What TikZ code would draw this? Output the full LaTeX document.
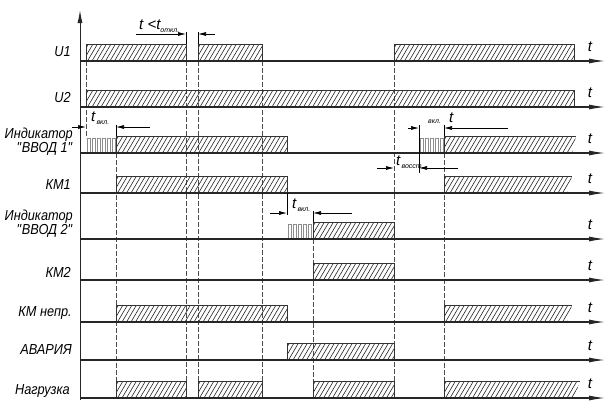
\documentclass[tikz,border=0pt]{standalone}
\usepackage{fontspec}
\setmainfont{Liberation Sans}
\newfontfamily\lblfont{Liberation Sans}[FakeStretch=0.88]
\usetikzlibrary{arrows.meta}
\newcommand{\hatchbar}[5]{%
  \begin{scope}
    \clip (#1,#4) -- (#1,#4-17) -- (#2,#4-17) -- (#3,#4) -- cycle;
    \pgfmathtruncatemacro\nh{(#2-#1)/4.5+4}
    \foreach \k in {0,...,\nh} \draw[hatchln] ({#1-12+4.5*\k},#4) -- ++(10,-17);
  \end{scope}
  \draw[edge] (#1,#4) -- (#1,#4-17) -- (#2,#4-17);
  \ifnum#5=1 \draw[edge] (#2,#4-17) -- (#3,#4);\fi
}
\newcommand{\pulses}[3]{%
  \foreach \k in {1,...,#2} \draw[pulse] ({#1+1+5*(\k-1)},#3) rectangle ++(3,-15);
}
\newcommand{\sub}[1]{\raisebox{-2.5pt}{\fontsize{7}{7}\selectfont #1}}
\newcommand{\sq}{\XeTeXglyph\XeTeXcharglyph34\relax}
\begin{document}
\begin{tikzpicture}[x=1pt,y=-1pt,
  base/.style={line width=1.1pt, draw=black!85, -{Latex[length=16pt,width=5pt]}},
  hatchln/.style={line width=0.6pt, draw=black!85},
  edge/.style={line width=0.7pt, draw=black!80},
  guide/.style={line width=0.7pt, draw=black!70, dash pattern=on 5pt off 2pt},
  dim/.style={line width=0.7pt, draw=black, -{Latex[length=8pt,width=4pt]}},
  tickln/.style={line width=0.7pt, draw=black},
  lbl/.style={font=\lblfont\fontsize{14.5}{13}\selectfont\itshape, align=right, anchor=east, inner sep=0pt},
  tl/.style={font=\fontsize{15}{15}\selectfont\itshape, inner sep=0pt},
  pulse/.style={line width=0.5pt, draw=black!45}
]
\useasboundingbox (0,0) rectangle (606,400);

% guide lines (dashed)
\draw[guide] (86,61) -- (86,138);
\foreach \x in {116,444} \draw[guide] (\x,153) -- (\x,383);
\foreach \x in {186,198,262,394} \draw[guide] (\x,61) -- (\x,383);
\draw[guide] (313,239) -- (313,383);

% hatched bars
\hatchbar{86}{186}{186}{61}{1}
\hatchbar{198}{262}{262}{61}{1}
\hatchbar{394}{574}{574}{61}{1}
\hatchbar{86}{574}{574}{107}{1}
\pulses{86}{6}{153}
\hatchbar{116}{287}{287}{153}{1}
\pulses{419}{5}{153}
\hatchbar{444}{576}{572}{153}{0}
\hatchbar{116}{287}{287}{193}{1}
\hatchbar{444}{572}{567}{193}{0}
\pulses{287}{5}{239}
\hatchbar{313}{394}{394}{239}{1}
\hatchbar{313}{394}{394}{280}{1}
\hatchbar{116}{287}{287}{322}{1}
\hatchbar{444}{572}{567}{322}{0}
\hatchbar{287}{394}{394}{360}{1}
\hatchbar{116}{186}{186}{398}{1}
\hatchbar{198}{262}{262}{398}{1}
\hatchbar{313}{394}{394}{398}{1}
\hatchbar{444}{580}{574}{398}{0}

% axis and baselines
\draw[line width=1pt, draw=black!85, -{Latex[length=13pt,width=5pt]}] (80,400) -- (80,10);
\foreach \y [count=\i] in {61,107,153,193,239,280,322,360,398} {
  \draw[base] (80,\y) -- (605,\y);
  \node[tl] (t\i) at (590,\y-14) {t};
}

% labels
\node[lbl] (lU1) at (71,52) {U1};
\node[lbl] (lU2) at (71,98) {U2};
\node[lbl] (lI1) at (73,142) {Индикатор\\\sq ВВОД 1\sq};
\node[lbl] (lK1) at (71,185) {КМ1};
\node[lbl] (lI2) at (73,224) {Индикатор\\\sq ВВОД 2\sq};
\node[lbl] (lK2) at (71,272) {КМ2};
\node[lbl] (lKn) at (72,313) {КМ непр.};
\node[lbl] (lA) at (72,350) {АВАРИЯ};
\node[lbl] (lN) at (70,391) {Нагрузка};

% dimension: t < t откл.
\coordinate (a1) at (186,34); \coordinate (a2) at (198,34);
\draw[tickln] (186,32) -- (186,44);
\draw[tickln] (198,32) -- (198,44);
\draw[dim] (136,34) -- (a1);
\draw[dim] (215,34) -- (a2);
\node[tl, anchor=west] (d1) at (139,26) {t <t\sub{откл.}};

% dimension: t вкл. (ВВОД 1)
\coordinate (b1) at (86,127); \coordinate (b2) at (116,127);
\draw[tickln] (116,125) -- (116,136);
\draw[dim] (72,127) -- (b1);
\draw[dim] (150,127) -- (b2);
\node[tl, anchor=west] (d2) at (91,118) {t\sub{\,вкл.}};

% dimension: вкл. t (restore)
\coordinate (c1) at (419,128); \coordinate (c2) at (444,128);
\draw[tickln] (419,125) -- (419,173);
\draw[tickln] (444,125) -- (444,136);
\draw[dim] (408,128) -- (c1);
\draw[dim] (508,128) -- (c2);
\node[font=\fontsize{7}{7}\selectfont\itshape, anchor=west, inner sep=0pt] (d3a) at (428,122) {вкл.};
\node[tl, anchor=west] (d3b) at (449,118) {t};

% dimension: t восст.
\coordinate (e1) at (394,168); \coordinate (e2) at (419,168);
\draw[dim] (377,168) -- (e1);
\draw[dim] (458,168) -- (e2);
\node[tl, anchor=west] (d4) at (396,162) {t\sub{\,восст.}};

% dimension: t вкл. (ВВОД 2)
\coordinate (f1) at (287,213); \coordinate (f2) at (313,213);
\draw[tickln] (287,193) -- (287,215);
\draw[tickln] (313,211) -- (313,222);
\draw[dim] (270,213) -- (f1);
\draw[dim] (352,213) -- (f2);
\node[tl, anchor=west] (d5) at (292,205) {t\sub{\,вкл.}};
\end{tikzpicture}
\end{document}
